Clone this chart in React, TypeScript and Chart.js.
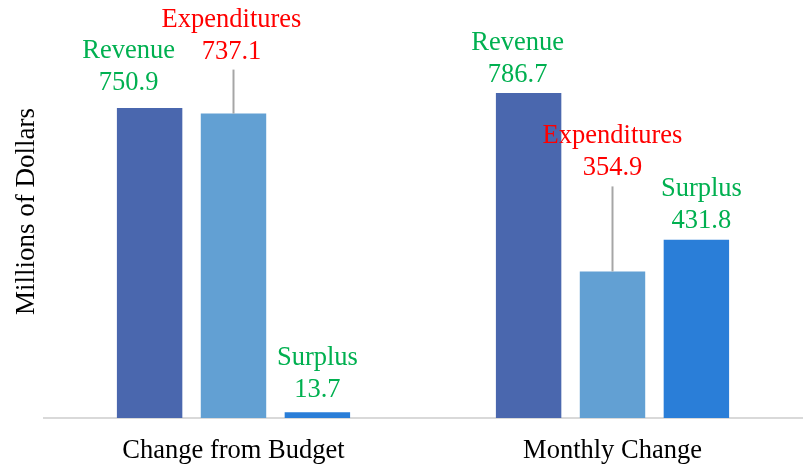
import React, { useEffect, useRef } from 'react';
import { Chart, registerables } from 'chart.js';

Chart.register(...registerables);

const categories = ['Change from Budget', 'Monthly Change'];
const seriesNames = ['Revenue', 'Expenditures', 'Surplus'];
const revenue = [750.9, 786.7];
const expenditures = [737.1, 354.9];
const surplus = [13.7, 431.8];

const barColors = ['#4a67ae', '#62a0d3', '#2a7ed8'];
const labelColors = ['#00b050', '#ff0000', '#00b050'];
const FONT = '"Liberation Serif", "Times New Roman", serif';

// label offsets (pixels) relative to bar top center, as manually placed in the original
const labelDx = [[-21, -11], [-2, 0], [0, 5]];
const labelDy = [[-25, -18], [-62, -103], [-22, -19]];
const labelLeader = [false, true, false];

const labelPlugin = {
  id: 'barLabels',
  afterDatasetsDraw(chart: any) {
    const ctx = chart.ctx;
    chart.data.datasets.forEach((ds: any, di: number) => {
      const meta = chart.getDatasetMeta(di);
      meta.data.forEach((bar: any, i: number) => {
        const cx = bar.x + labelDx[di][i];
        const vy = bar.y + labelDy[di][i];
        ctx.save();
        if (labelLeader[di]) {
          ctx.strokeStyle = '#a6a6a6';
          ctx.lineWidth = 2;
          ctx.beginPath();
          ctx.moveTo(bar.x, bar.y);
          ctx.lineTo(bar.x, vy + 18);
          ctx.stroke();
        }
        ctx.font = `26.5px ${FONT}`;
        ctx.fillStyle = labelColors[di];
        ctx.textAlign = 'center';
        ctx.textBaseline = 'middle';
        ctx.fillText(ds.label, cx, vy - 32);
        ctx.fillText(Number(ds.data[i]).toFixed(1), cx, vy);
        ctx.restore();
      });
    });
  },
};

export default function App() {
  const ref = useRef<HTMLCanvasElement>(null);
  useEffect(() => {
    if (!ref.current) return;
    const values = [revenue, expenditures, surplus];
    const chart = new Chart(ref.current, {
      type: 'bar',
      data: {
        labels: categories,
        datasets: seriesNames.map((name, k) => ({
          label: name,
          data: values[k],
          backgroundColor: barColors[k],
          borderWidth: 0,
          categoryPercentage: 0.664,
          barPercentage: 0.78,
        })),
      },
      options: {
        responsive: false,
        animation: false,
        layout: { padding: { top: 5, right: 2, left: 0, bottom: 0 } },
        plugins: { legend: { display: false }, tooltip: { enabled: false } },
        scales: {
          x: {
            grid: { display: false, drawTicks: false },
            border: { display: true, color: '#d9d9d9', width: 2 },
            ticks: { color: '#000', font: { family: FONT, size: 26.5 }, padding: 17 },
            afterFit: (s: any) => { s.height = 47; },
          },
          y: {
            min: 0,
            max: 1000,
            grid: { display: false },
            border: { display: false },
            ticks: { display: false },
            title: {
              display: true,
              text: 'Millions of Dollars',
              color: '#000',
              font: { family: FONT, size: 27 },
              padding: { top: 11, bottom: 0 },
            },
            afterFit: (s: any) => { s.width = 44; },
          },
        },
      },
      plugins: [labelPlugin],
    });
    return () => chart.destroy();
  }, []);
  return (
    <div style={{ position: 'absolute', left: 0, top: 0, width: 804, height: 465, background: '#fff' }}>
      <canvas ref={ref} width={804} height={465} />
    </div>
  );
}
